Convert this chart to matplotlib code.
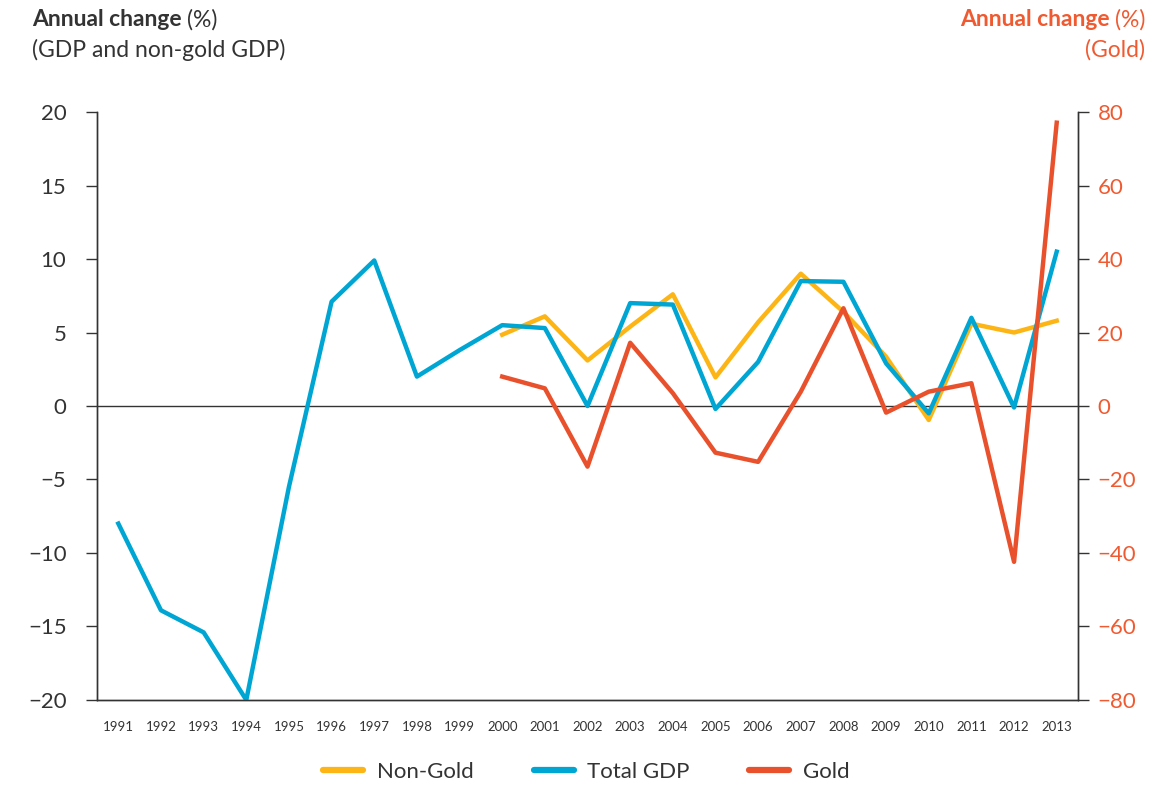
import matplotlib.pyplot as plt

plt.rcParams['font.family'] = ['Lato', 'DejaVu Sans']

# Annual change (%)
years = list(range(1991, 2014))
total_gdp = [-8.0, -13.9, -15.4, -20.0, -5.5, 7.1, 9.9, 2.0, 3.8, 5.5, 5.3, 0.0,
             7.0, 6.9, -0.2, 3.0, 8.5, 8.45, 2.9, -0.5, 6.0, -0.1, 10.5]

gold_years = list(range(2000, 2014))
non_gold = [4.85, 6.1, 3.1, 5.4, 7.6, 1.95, 5.7, 9.0, 6.4, 3.35, -0.95, 5.6, 5.0, 5.8]
gold = [8.0, 4.8, -16.5, 17.2, 3.5, -12.7, -15.2, 3.9, 26.6, -1.8, 3.9, 6.2, -42.4, 77.1]

left_ticks = [-20, -15, -10, -5, 0, 5, 10, 15, 20]
right_ticks = [-80, -60, -40, -20, 0, 20, 40, 60, 80]

YELLOW = '#FDB515'
BLUE = '#00A6D3'
RED = '#E9512D'
RED_TXT = '#F05A30'
DARK = '#333333'

fig = plt.figure(figsize=(11.52, 7.85), dpi=100)
ax = fig.add_axes([0.0842, 0.1083, 0.8516, 0.7490])
ax2 = ax.twinx()

ax.axhline(0, color=DARK, lw=1.0, zorder=1)

l1, = ax.plot(gold_years, non_gold, color=YELLOW, lw=3.2, label='Non-Gold', zorder=3)
l2, = ax.plot(years, total_gdp, color=BLUE, lw=3.2, label='Total GDP', zorder=4)
l3, = ax2.plot(gold_years, gold, color=RED, lw=3.2, label='Gold', zorder=5)

ax.set_xlim(1990.5, 2013.5)
ax.set_ylim(-20, 20)
ax2.set_ylim(-80, 80)
ax.set_yticks(left_ticks)
ax2.set_yticks(right_ticks)
ax.set_xticks(years)
ax.set_xticklabels([str(y) for y in years], fontsize=9.5, color=DARK)
ax.tick_params(axis='x', length=0, pad=15)
ax.tick_params(axis='y', length=8, width=1.0, color=DARK, labelsize=16,
               labelcolor=DARK, pad=14, direction='out')
ax2.tick_params(axis='y', length=8, width=1.0, color=DARK, labelsize=16,
                labelcolor=RED_TXT, pad=6, direction='out')

for a in (ax, ax2):
    a.spines['top'].set_visible(False)
    for s in ('left', 'right', 'bottom'):
        a.spines[s].set_color(DARK)
        a.spines[s].set_linewidth(1.0)
    a.set_facecolor('none')

# headers with bold + regular parts
renderer = fig.canvas.get_renderer()
t = fig.text(32 / 1152, 1 - 20 / 785, 'Annual change', fontsize=16.5, fontweight='bold',
             color=DARK, va='center', ha='left')
bb = t.get_window_extent(renderer)
fig.text((bb.x1 + 5) / 1152, 1 - 20 / 785, '(%)', fontsize=16.5, color=DARK,
         va='center', ha='left')
fig.text(32 / 1152, 1 - 50 / 785, '(GDP and non-gold GDP)', fontsize=16.5, color=DARK,
         va='center', ha='left')

t = fig.text(1145 / 1152, 1 - 20 / 785, '(%)', fontsize=16.5, color=RED_TXT,
             va='center', ha='right')
bb = t.get_window_extent(renderer)
fig.text((bb.x0 - 5) / 1152, 1 - 20 / 785, 'Annual change', fontsize=16.5,
         fontweight='bold', color=RED_TXT, va='center', ha='right')
fig.text(1145 / 1152, 1 - 50 / 785, '(Gold)', fontsize=16.5, color=RED_TXT,
         va='center', ha='right')

leg = fig.legend(handles=[l1, l2, l3], loc='center', bbox_to_anchor=(0.509, 1 - 772 / 785),
                 ncol=3, frameon=False, fontsize=16, handlelength=1.8,
                 handletextpad=0.6, columnspacing=2.7)
for h in leg.legend_handles:
    h.set_linewidth(4.5)
    h.set_solid_capstyle('round')
for txt in leg.get_texts():
    txt.set_color(DARK)

fig.savefig('out.png', dpi=100)
